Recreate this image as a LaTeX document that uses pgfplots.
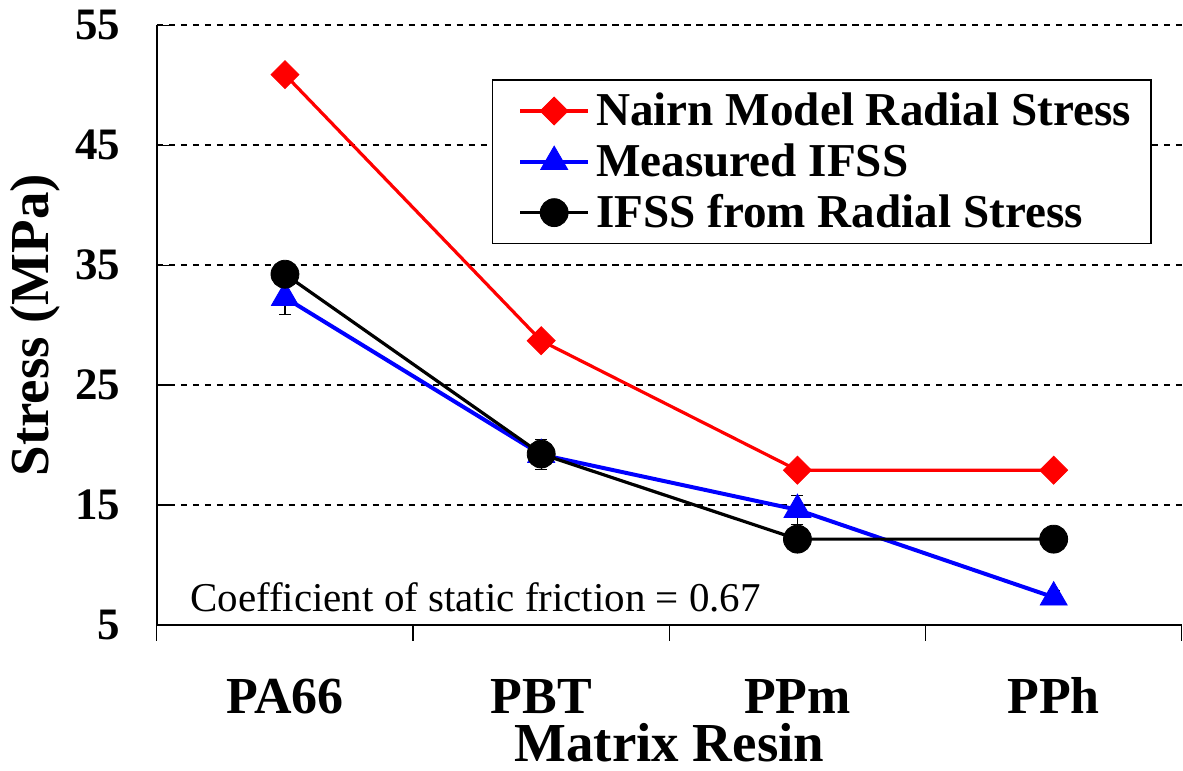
\documentclass[border=0pt]{standalone}
\usepackage{fontspec}
\setmainfont{Liberation Serif}
\usepackage{pgfplots}
\pgfplotsset{compat=1.18}

\begin{document}
\begin{tikzpicture}
\begin{axis}[
    name=ax,
    scale only axis,
    width=513pt, height=300pt,
    xmin=-0.5, xmax=3.5,
    ymin=5, ymax=55,
    axis x line=bottom, axis y line=left,
    axis line style={-, line width=1.2pt},
    xtick={0,1,2,3},
    xticklabels={PA66,PBT,PPm,PPh},
    minor xtick={-0.5,0.5,1.5,2.5,3.5},
    ytick={5,15,25,35,45,55},
    tick align=inside,
    major tick length=7.5pt,
    minor tick length=8pt,
    major x tick style={draw=none},
    minor x tick style={yshift=-8pt, line width=0.6pt, black},
    major y tick style={line width=0.6pt, black},
    ymajorgrids,
    grid style={black, line width=1pt, dash pattern=on 3.2pt off 2.8pt},
    /pgf/number format/assume math mode=true,
    yticklabel style={font=\bfseries\fontsize{22.5}{22.5}\selectfont, anchor=east, inner sep=0pt, xshift=-18pt},
    xticklabel style={font=\bfseries\fontsize{26}{26}\selectfont, anchor=base, inner sep=0pt, yshift=-44.5pt},
    xlabel={Matrix Resin},
    ylabel={Stress (MPa)},
    xlabel style={font=\bfseries\fontsize{27.5}{27.5}\selectfont, at={(rel axis cs:0.5,0)}, anchor=base, inner sep=0pt, yshift=-68.5pt},
    ylabel style={font=\bfseries\fontsize{27.5}{27.5}\selectfont, at={(rel axis cs:0,0.5)}, anchor=center, yshift=61pt},
    legend style={at={(rel axis cs:0.3265,0.91)}, anchor=north west, draw=black, line width=0.75pt, fill=white,
        font=\bfseries\fontsize{23.6}{23.6}\selectfont, inner xsep=8pt, inner ysep=4.5pt,
        nodes={inner sep=2pt}, row sep=3.5pt, column sep=1pt},
    legend cell align=left,
    legend image code/.code={\path (-5pt,0pt);
        \draw[mark repeat=2,mark phase=2,#1] plot coordinates {(0pt,0pt) (17pt,0pt) (34pt,0pt)};},
]
% Nairn model radial stress
\addplot[red, line width=1.6pt, mark=square*, mark size=4.95pt, mark options={rotate=45, solid, line width=0.4pt}]
    coordinates {(0,50.9) (1,28.7) (2,17.9) (3,17.9)};
\addlegendentry{Nairn Model Radial Stress}
% measured IFSS, with error bars
\addplot[blue, line width=2pt, mark=triangle*, mark size=7.8pt, mark options={solid, line width=0.4pt},
    error bars/.cd, y dir=both, y explicit,
    error bar style={black, line width=0.6pt},
    error mark options={black, rotate=90, mark size=3pt, line width=0.6pt}]
    table[x=x, y=y, y error=e] {
x y e
0 32.3 1.4
1 19.2 1.25
2 14.6 1.2
3 7.3 0.55
};
\addlegendentry{Measured IFSS}
% IFSS from radial stress
\addplot[black, line width=1.6pt, mark=*, mark size=7pt, mark options={solid, line width=0.4pt}]
    coordinates {(0,34.25) (1,19.25) (2,12.15) (3,12.15)};
\addlegendentry{IFSS from Radial Stress}
\node[anchor=base west, font=\fontsize{20.5}{20.5}\selectfont, inner sep=0pt] at (axis cs:-0.371,6.08) {Coefficient of static friction = 0.67};
\end{axis}
\path ([xshift=-78.5pt,yshift=-73pt]ax.south west) rectangle ([yshift=12.75pt]ax.north east);
\end{tikzpicture}
\end{document}
